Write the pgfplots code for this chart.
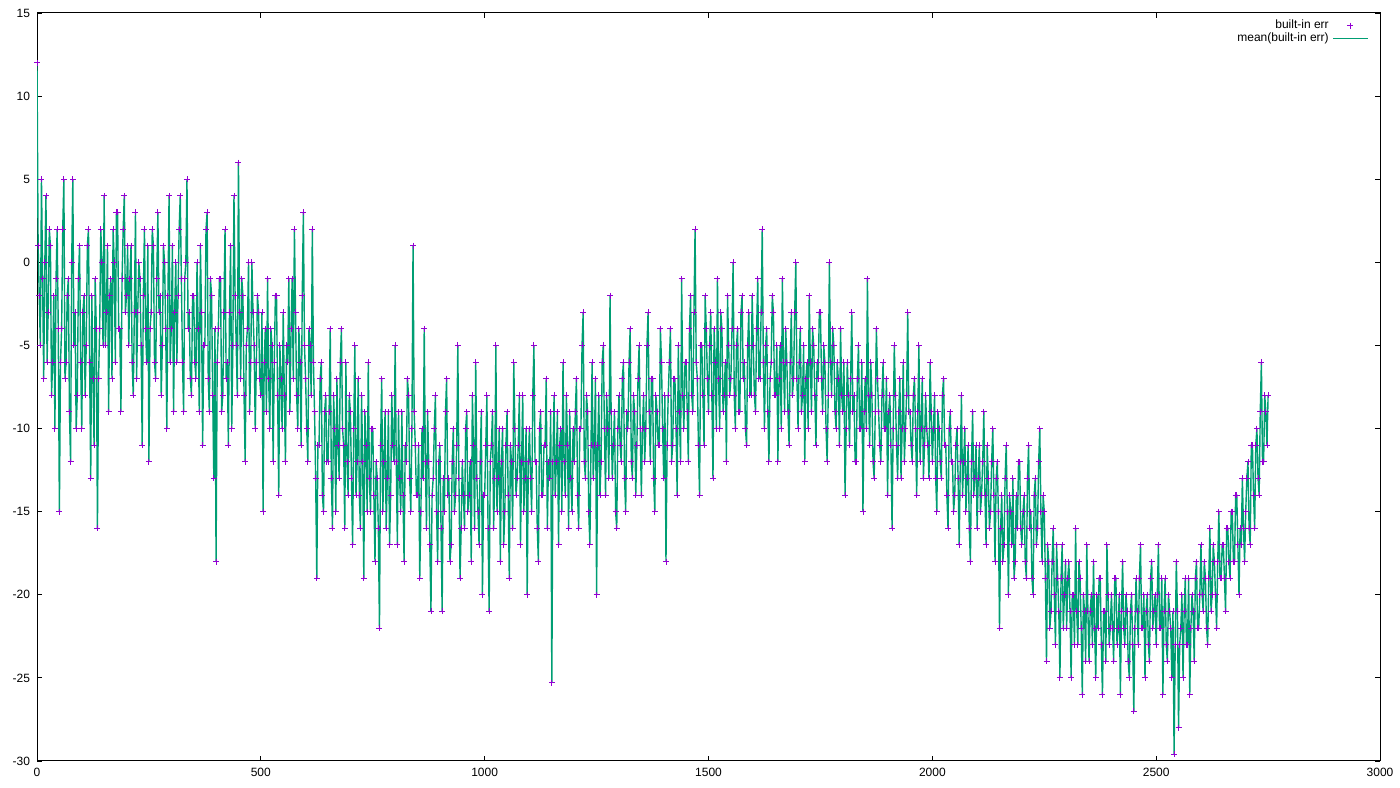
\documentclass[border=0pt]{standalone}
\usepackage{fontspec}
\setmainfont{Liberation Sans}
\usepackage{pgfplots}
\usepackage{pgfplotstable}
\pgfplotsset{compat=1.18}
\definecolor{gpviolet}{HTML}{9400D3}
\definecolor{gpgreen}{HTML}{009E73}
\pgfplotstableread[row sep=\\]{
y\\
12\\ 1\\ -2\\ -5\\ 5\\ -1\\ -7\\ 0\\ 4\\ -6\\ -3\\ 2\\ 1\\ -8\\ -6\\ -2\\ -10\\ -1\\ 2\\ -4\\
-15\\ -6\\ -4\\ 2\\ 5\\ -7\\ -6\\ -2\\ -1\\ -9\\ -12\\ 0\\ 5\\ -5\\ -3\\ -10\\ -8\\ -1\\ 1\\ -6\\
-10\\ -3\\ -2\\ -8\\ -5\\ 1\\ 2\\ -6\\ -13\\ -2\\ -7\\ -11\\ -1\\ -4\\ -16\\ -7\\ -4\\ 2\\ 0\\ -5\\
4\\ -5\\ -3\\ 1\\ -9\\ -2\\ -1\\ -7\\ 2\\ 0\\ -6\\ 3\\ 3\\ -4\\ -4\\ -9\\ -1\\ 2\\ 4\\ -3\\
-2\\ 1\\ -5\\ -1\\ 1\\ -6\\ -8\\ -3\\ 3\\ -7\\ -3\\ 0\\ -1\\ -5\\ -11\\ -2\\ 2\\ -4\\ -6\\ 1\\
-12\\ -4\\ -3\\ 2\\ 1\\ -6\\ -7\\ -1\\ 3\\ -3\\ -2\\ -8\\ -5\\ 1\\ 0\\ -4\\ -10\\ -2\\ 4\\ -6\\
-4\\ 1\\ -9\\ -3\\ 0\\ -6\\ -2\\ 2\\ 4\\ -1\\ -6\\ -9\\ -1\\ 0\\ 5\\ -4\\ -3\\ -7\\ -8\\ -2\\
-2\\ -6\\ -7\\ 0\\ -4\\ -9\\ 1\\ -3\\ -11\\ -5\\ -5\\ 2\\ 3\\ -7\\ -9\\ -1\\ -2\\ -8\\ -13\\ -4\\
-18\\ -6\\ -4\\ -1\\ -1\\ -9\\ -8\\ -3\\ 2\\ -7\\ -6\\ -11\\ -3\\ 1\\ -10\\ -5\\ 4\\ -2\\ -5\\ -8\\
6\\ -3\\ -7\\ -1\\ -2\\ -8\\ -12\\ -5\\ -4\\ 0\\ -9\\ -6\\ 0\\ -3\\ -5\\ -10\\ -6\\ -2\\ -3\\ -7\\
-8\\ -3\\ -15\\ -6\\ -4\\ -9\\ -1\\ -7\\ -10\\ -4\\ -5\\ -12\\ -6\\ -2\\ -2\\ -8\\ -14\\ -5\\ -7\\ -10\\
-3\\ -8\\ -12\\ -5\\ -6\\ -1\\ -9\\ -4\\ -1\\ -7\\ 2\\ -3\\ -8\\ -10\\ -4\\ -6\\ -11\\ -2\\ 3\\ -5\\
-7\\ -10\\ -12\\ -4\\ -5\\ -8\\ 2\\ -6\\ -9\\ -13\\ -19\\ -11\\ -11\\ -7\\ -6\\ -14\\ -15\\ -9\\ -8\\ -12\\
-12\\ -9\\ -4\\ -13\\ -16\\ -8\\ -10\\ -15\\ -7\\ -11\\ -13\\ -6\\ -4\\ -10\\ -11\\ -16\\ -6\\ -12\\ -14\\ -8\\
-9\\ -13\\ -17\\ -10\\ -5\\ -14\\ -12\\ -7\\ -14\\ -16\\ -8\\ -12\\ -19\\ -9\\ -11\\ -15\\ -6\\ -13\\ -15\\ -10\\
-10\\ -14\\ -18\\ -12\\ -13\\ -16\\ -22\\ -11\\ -7\\ -15\\ -12\\ -9\\ -16\\ -13\\ -9\\ -17\\ -14\\ -8\\ -11\\ -12\\
-5\\ -12\\ -17\\ -9\\ -13\\ -15\\ -9\\ -14\\ -18\\ -11\\ -12\\ -7\\ -8\\ -13\\ -15\\ -10\\ 1\\ -9\\ -11\\ -14\\
-14\\ -11\\ -19\\ -15\\ -10\\ -13\\ -4\\ -12\\ -16\\ -9\\ -12\\ -17\\ -21\\ -14\\ -13\\ -10\\ -8\\ -15\\ -18\\ -12\\
-11\\ -16\\ -21\\ -13\\ -15\\ -9\\ -7\\ -14\\ -13\\ -18\\ -17\\ -12\\ -10\\ -15\\ -14\\ -11\\ -5\\ -13\\ -19\\ -16\\
-12\\ -14\\ -16\\ -10\\ -9\\ -15\\ -14\\ -12\\ -18\\ -8\\ -11\\ -16\\ -6\\ -13\\ -15\\ -17\\ -12\\ -9\\ -20\\ -14\\
-14\\ -11\\ -8\\ -16\\ -21\\ -12\\ -11\\ -9\\ -16\\ -13\\ -5\\ -15\\ -13\\ -10\\ -18\\ -12\\ -10\\ -17\\ -15\\ -11\\
-9\\ -14\\ -19\\ -11\\ -12\\ -16\\ -6\\ -10\\ -14\\ -13\\ -11\\ -8\\ -17\\ -12\\ -8\\ -15\\ -13\\ -10\\ -20\\ -12\\
-10\\ -13\\ -15\\ -8\\ -5\\ -12\\ -12\\ -16\\ -18\\ -10\\ -9\\ -14\\ -14\\ -11\\ -11\\ -7\\ -16\\ -12\\ -13\\ -9\\
-25.3\\ -12\\ -8\\ -14\\ -12\\ -9\\ -17\\ -11\\ -10\\ -15\\ -6\\ -12\\ -14\\ -8\\ -11\\ -16\\ -9\\ -13\\ -15\\ -10\\
-12\\ -9\\ -7\\ -14\\ -16\\ -10\\ -10\\ -5\\ -3\\ -12\\ -13\\ -8\\ -9\\ -15\\ -17\\ -11\\ -6\\ -13\\ -11\\ -7\\
-20\\ -11\\ -8\\ -14\\ -12\\ -6\\ -5\\ -10\\ -14\\ -8\\ -10\\ -13\\ -2\\ -9\\ -13\\ -11\\ -9\\ -15\\ -16\\ -10\\
-8\\ -11\\ -12\\ -7\\ -6\\ -13\\ -15\\ -9\\ -10\\ -6\\ -4\\ -12\\ -13\\ -8\\ -9\\ -14\\ -11\\ -7\\ -5\\ -10\\
-14\\ -10\\ -8\\ -12\\ -10\\ -5\\ -3\\ -9\\ -12\\ -7\\ -7\\ -13\\ -15\\ -8\\ -9\\ -11\\ -11\\ -4\\ -6\\ -10\\
-13\\ -8\\ -18\\ -11\\ -8\\ -6\\ -4\\ -12\\ -11\\ -7\\ -7\\ -10\\ -14\\ -5\\ -9\\ -12\\ -1\\ -8\\ -10\\ -6\\
-6\\ -9\\ -12\\ -4\\ -2\\ -8\\ -9\\ -3\\ 2\\ -6\\ -7\\ -11\\ -14\\ -5\\ -5\\ -8\\ -11\\ -2\\ -4\\ -7\\
-9\\ -5\\ -3\\ -8\\ -13\\ -4\\ -6\\ -10\\ -1\\ -7\\ -10\\ -3\\ -4\\ -9\\ -8\\ -6\\ -12\\ -2\\ -5\\ -8\\
-7\\ -4\\ 0\\ -8\\ -10\\ -5\\ -4\\ -9\\ -9\\ -3\\ -2\\ -7\\ -6\\ -10\\ -11\\ -5\\ -3\\ -8\\ -8\\ -2\\
-5\\ -8\\ -9\\ -4\\ -1\\ -7\\ -7\\ -3\\ 2\\ -6\\ -10\\ -5\\ -4\\ -9\\ -12\\ -7\\ -6\\ -2\\ -3\\ -8\\
-8\\ -5\\ -12\\ -7\\ -5\\ -10\\ -1\\ -6\\ -9\\ -4\\ -6\\ -9\\ -11\\ -6\\ -3\\ -8\\ -7\\ -3\\ 0\\ -7\\
-10\\ -6\\ -4\\ -9\\ -8\\ -5\\ -12\\ -7\\ -6\\ -10\\ -2\\ -6\\ -9\\ -4\\ -5\\ -8\\ -11\\ -6\\ -7\\ -3\\
-3\\ -7\\ -9\\ -5\\ -6\\ -10\\ -12\\ -8\\ 0\\ -6\\ -8\\ -4\\ -5\\ -9\\ -10\\ -6\\ -7\\ -11\\ -4\\ -8\\
-9\\ -6\\ -14\\ -10\\ -6\\ -8\\ -11\\ -7\\ -3\\ -9\\ -8\\ -12\\ -12\\ -7\\ -5\\ -10\\ -10\\ -6\\ -15\\ -9\\
-7\\ -10\\ -1\\ -8\\ -11\\ -6\\ -8\\ -12\\ -13\\ -9\\ -4\\ -7\\ -9\\ -11\\ -12\\ -8\\ -6\\ -10\\ -10\\ -7\\
-14\\ -9\\ -8\\ -11\\ -16\\ -10\\ -5\\ -8\\ -11\\ -13\\ -9\\ -7\\ -13\\ -10\\ -6\\ -12\\ -10\\ -8\\ -3\\ -9\\
-9\\ -11\\ -12\\ -8\\ -7\\ -10\\ -14\\ -9\\ -5\\ -12\\ -10\\ -7\\ -13\\ -11\\ -8\\ -10\\ -11\\ -13\\ -6\\ -9\\
-12\\ -10\\ -8\\ -13\\ -15\\ -9\\ -10\\ -12\\ -13\\ -8\\ -7\\ -11\\ -11\\ -14\\ -16\\ -10\\ -9\\ -12\\ -12\\ -15\\
-14\\ -11\\ -10\\ -13\\ -17\\ -12\\ -8\\ -14\\ -12\\ -10\\ -15\\ -13\\ -11\\ -16\\ -18\\ -12\\ -9\\ -14\\ -13\\ -11\\
-16\\ -13\\ -11\\ -15\\ -14\\ -12\\ -9\\ -14\\ -17\\ -11\\ -13\\ -16\\ -15\\ -12\\ -10\\ -14\\ -18\\ -13\\ -12\\ -15\\
-22\\ -16\\ -14\\ -18\\ -17\\ -13\\ -11\\ -15\\ -20\\ -14\\ -15\\ -17\\ -13\\ -19\\ -18\\ -14\\ -16\\ -12\\ -12\\ -16\\
-17\\ -15\\ -14\\ -18\\ -19\\ -13\\ -11\\ -16\\ -15\\ -19\\ -20\\ -14\\ -13\\ -17\\ -16\\ -12\\ -10\\ -15\\ -18\\ -14\\
-15\\ -19\\ -24\\ -17\\ -18\\ -22\\ -21\\ -18\\ -16\\ -20\\ -23\\ -17\\ -19\\ -21\\ -25\\ -19\\ -17\\ -22\\ -20\\ -18\\
-22\\ -19\\ -18\\ -21\\ -25\\ -20\\ -20\\ -23\\ -16\\ -21\\ -23\\ -18\\ -19\\ -22\\ -26\\ -20\\ -21\\ -24\\ -17\\ -21\\
-24\\ -21\\ -20\\ -23\\ -18\\ -22\\ -25\\ -20\\ -22\\ -19\\ -19\\ -23\\ -26\\ -21\\ -21\\ -24\\ -17\\ -20\\ -23\\ -22\\
-20\\ -22\\ -24\\ -19\\ -19\\ -23\\ -22\\ -20\\ -26\\ -21\\ -18\\ -22\\ -23\\ -20\\ -21\\ -24\\ -25\\ -21\\ -20\\ -23\\
-27\\ -22\\ -19\\ -21\\ -23\\ -19\\ -17\\ -22\\ -22\\ -20\\ -25\\ -21\\ -20\\ -23\\ -24\\ -19\\ -18\\ -22\\ -21\\ -20\\
-23\\ -20\\ -17\\ -22\\ -22\\ -19\\ -26\\ -21\\ -19\\ -23\\ -24\\ -20\\ -21\\ -22\\ -25\\ -21\\ -29.6\\ -23\\ -18\\ -21\\
-28\\ -23\\ -22\\ -20\\ -25\\ -21\\ -19\\ -23\\ -23\\ -19\\ -26\\ -22\\ -20\\ -21\\ -24\\ -19\\ -18\\ -22\\ -22\\ -20\\
-17\\ -20\\ -21\\ -18\\ -19\\ -22\\ -23\\ -19\\ -16\\ -21\\ -20\\ -17\\ -18\\ -20\\ -22\\ -18\\ -15\\ -19\\ -19\\ -17\\
-17\\ -19\\ -21\\ -16\\ -16\\ -18\\ -19\\ -15\\ -15\\ -18\\ -18\\ -14\\ -14\\ -17\\ -20\\ -16\\ -17\\ -13\\ -16\\ -18\\
-15\\ -13\\ -12\\ -16\\ -17\\ -11\\ -11\\ -14\\ -16\\ -11\\ -10\\ -13\\ -14\\ -9\\ -6\\ -12\\ -12\\ -8\\ -9\\ -11\\
-8\\
}\errdata
\begin{document}
\begin{tikzpicture}
\begin{axis}[
  scale only axis,
  width=671.5pt, height=374pt,
  xmin=0, xmax=3000, ymin=-30, ymax=15,
  xtick={0,500,...,3000},
  ytick={-30,-25,...,15},
  tick label style={font=\fontsize{6}{7}\selectfont},
  /pgf/number format/assume math mode=true,
  /pgf/number format/1000 sep={},
  major tick length=2.5pt,
  tick style={black, line width=0.4pt},
  axis line style={line width=0.5pt},
  legend style={draw=none, fill=none, at={(0.996,1.002)}, anchor=north east,
    font=\fontsize{6}{7}\selectfont, row sep=-3.5pt},
  legend cell align=right,
  legend plot pos=right,
  clip=true,
]
\coordinate (O) at (rel axis cs:0,0);
\coordinate (E) at (rel axis cs:1,1);
\addplot[only marks, mark=+, mark size=1.5pt, gpviolet, mark options={line width=0.45pt}]
  table[x expr=\coordindex*2.5, y=y] {\errdata};
\addlegendentry{built-in err}
\addplot[sharp plot, no marks, gpgreen, line width=0.7pt]
  table[x expr=\coordindex*2.5, y=y] {\errdata};
\addlegendentry{mean(built-in err)}
\end{axis}
\pgfresetboundingbox
\path[use as bounding box] ([xshift=-18.5pt,yshift=-13.5pt]O) rectangle ([xshift=10pt,yshift=6.5pt]E);
\end{tikzpicture}
\end{document}
